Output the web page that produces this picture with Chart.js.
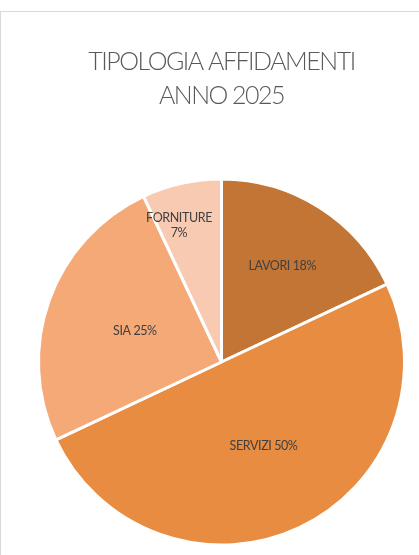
<!DOCTYPE html>
<html>
<head>
<meta charset="utf-8">
<script src="https://cdn.jsdelivr.net/npm/chart.js@4/dist/chart.umd.min.js"></script>
<style>
  html, body { margin: 0; padding: 0; background: #ffffff; }
  body { width: 419px; height: 555px; position: relative; overflow: hidden; }
  #frame { position: absolute; left: 0; top: 11px; width: 440px; height: 560px;
           border-top: 1px solid #d9d9d9; border-left: 1px solid #d9d9d9; box-sizing: border-box; }
  #wrap { position: absolute; left: 0; top: 0; width: 419px; height: 555px; }
</style>
</head>
<body>
<div id="frame"></div>
<div id="wrap"><canvas id="c" width="419" height="555"></canvas></div>
<script>
const titleLines = ['TIPOLOGIA AFFIDAMENTI', 'ANNO 2025'];
const categories = ['LAVORI', 'SERVIZI', 'SIA', 'FORNITURE'];
const values = [18, 50, 25, 7];
const sliceColors = ['#C27534', '#E88C42', '#F4A977', '#F8CAB2'];

const FONT = "Lato, 'Open Sans', sans-serif";

const titleSpacing = {
  id: 'titleSpacing',
  beforeDraw(chart) { chart.ctx.letterSpacing = '-1.5px'; },
  beforeDatasetsDraw(chart) { chart.ctx.letterSpacing = '0px'; }
};

const pieLabels = {
  id: 'pieLabels',
  afterDatasetsDraw(chart, args, opts) {
    const ctx = chart.ctx;
    const meta = chart.getDatasetMeta(0);
    const data = chart.data.datasets[0].data;
    const total = data.reduce((a, b) => a + b, 0);
    ctx.save();
    ctx.font = opts.font;
    ctx.letterSpacing = opts.letterSpacing;
    ctx.fillStyle = opts.color;
    ctx.textAlign = 'center';
    ctx.textBaseline = 'middle';
    meta.data.forEach((arc, i) => {
      const p = arc.getProps(['x', 'y', 'startAngle', 'endAngle', 'outerRadius'], true);
      const mid = (p.startAngle + p.endAngle) / 2 + (opts.angleShift[i] || 0) * Math.PI / 180;
      const d = p.outerRadius * opts.radial[i];
      const cx = p.x + Math.cos(mid) * d;
      const cy = p.y + Math.sin(mid) * d;
      const pct = Math.round(data[i] / total * 100) + '%';
      const label = chart.data.labels[i];
      const lines = opts.wrap[i] ? [label, pct] : [label + ' ' + pct];
      const lh = opts.lineHeight;
      const y0 = cy - (lines.length - 1) * lh / 2;
      lines.forEach((t, k) => ctx.fillText(t, cx, y0 + k * lh));
    });
    ctx.restore();
  }
};

new Chart(document.getElementById('c'), {
  type: 'pie',
  data: {
    labels: categories,
    datasets: [{
      data: values,
      backgroundColor: sliceColors,
      borderColor: '#ffffff',
      borderWidth: 3
    }]
  },
  options: {
    responsive: false,
    animation: false,
    events: [],
    layout: { padding: { top: 0, left: 37, right: 13, bottom: 8.5 } },
    plugins: {
      legend: { display: false },
      tooltip: { enabled: false },
      title: {
        display: true,
        text: titleLines,
        color: '#595959',
        font: { family: FONT, size: 25, weight: 300, lineHeight: 34 / 25 },
        padding: { top: 45, bottom: 64.5 }
      },
      pieLabels: {
        font: "12.5px " + FONT,
        letterSpacing: '-0.4px',
        color: '#404040',
        lineHeight: 15,
        radial: [0.62, 0.513, 0.503, 0.781],
        angleShift: [0, -1.4, 0, -4.7],
        wrap: [false, false, false, true]
      }
    }
  },
  plugins: [titleSpacing, pieLabels]
});
</script>
</body>
</html>
